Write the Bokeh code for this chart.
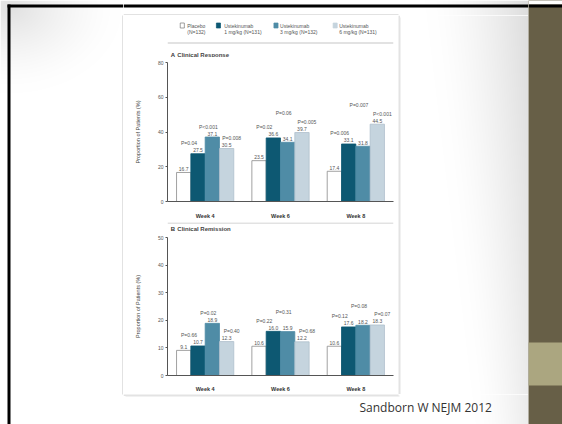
import numpy as np
from bokeh.plotting import figure
from bokeh.models import (ColumnDataSource, FactorRange, Range1d, FixedTicker, BoxAnnotation)
from bokeh.layouts import column, row
from bokeh.transform import dodge
from bokeh.core.properties import value
from bokeh.embed import file_html
from bokeh.resources import INLINE

# ---------------- data ----------------
weeks = ["Week 4", "Week 6", "Week 8"]
group_names = ["Placebo", "Ustekinumab", "Ustekinumab", "Ustekinumab"]
group_details = ["(N=132)", "1 mg/kg (N=131)", "3 mg/kg (N=132)", "6 mg/kg (N=131)"]

response_placebo = [16.7, 23.5, 17.4]
response_1mg = [27.5, 36.6, 33.1]
response_3mg = [37.1, 34.1, 31.8]
response_6mg = [30.5, 39.7, 44.5]
response_p_1mg = ["P=0.04", "P=0.02", "P=0.006"]
response_p_3mg = ["P<0.001", "P=0.06", "P=0.007"]
response_p_6mg = ["P=0.008", "P=0.005", "P<0.001"]
response_ticks = [0, 20, 40, 60, 80]

remission_placebo = [9.1, 10.6, 10.6]
remission_1mg = [10.7, 16.0, 17.6]
remission_3mg = [18.9, 15.9, 18.2]
remission_6mg = [12.3, 12.2, 18.3]
remission_p_1mg = ["P=0.66", "P=0.22", "P=0.12"]
remission_p_3mg = ["P=0.02", "P=0.31", "P=0.08"]
remission_p_6mg = ["P=0.40", "P=0.68", "P=0.07"]
remission_ticks = [0, 10, 20, 30, 40, 50]

panel_titles = [("A", "Clinical Response"), ("B", "Clinical Remission")]
y_axis_title = "Proportion of Patients (%)"
source_note = "Sandborn W NEJM 2012"

# ---------------- style ----------------
FILLS = ["white", "#0d5872", "#4f8ca6", "#c5d4de"]
LINES = ["#8a8a8a", "#0d5872", "#4f8ca6", "#aebfcb"]
OFFSETS = [-0.285, -0.095, 0.095, 0.285]
BAR_W = 0.19
P_XOFF = [0, -9, -4, 5]
FONT = "Liberation Sans"
TXT = "#555555"
BORDER = "#c6c6c6"
OLIVE = "#675f47"
OLIVE_LIGHT = "#aba680"
LEGEND_SWATCH_X = [18, 62, 132, 204]
LEGEND_TEXT_X = [24, 69, 137, 209]


def shade(px0, py0, w, h):
    """Soft slide-background shading as RGBA image, in page pixel space."""
    xs = np.arange(w)[None, :] + px0 + 0.5
    ys = np.arange(h)[:, None] + py0 + 0.5
    x0 = 425 + 0.12 * ys
    t = np.clip((xs - x0) / (528 - x0), 0, 1)
    dark = 34 * t ** 1.6 * (1 - 0.45 * ys / 424)
    r = np.sqrt(((xs - 10) / 1.3) ** 2 + (ys - 7) ** 2)
    dark = dark + 30 * np.clip(1 - r / 85, 0, 1) ** 1.5
    g = np.clip(255 - dark, 0, 255).astype(np.uint32)
    img = (255 << 24) | (g << 16) | (g << 8) | g
    return img.astype(np.uint32)


def blank(w, h, px0, py0, bg="white", shaded=True):
    p = figure(width=w, height=h, x_range=Range1d(0, w), y_range=Range1d(h, 0),
               x_axis_type=None, y_axis_type=None, toolbar_location=None,
               output_backend="svg", min_border=0, title=None,
               background_fill_color=bg, border_fill_color=bg, outline_line_color=None)
    if shaded:
        p.image_rgba(image=[shade(px0, py0, w, h)], x=0, y=0, dw=w, dh=h)
    return p


def bar(p, left, right, top, bottom, color):
    p.add_layout(BoxAnnotation(left=left, right=right, top=top, bottom=bottom,
                               fill_color=color, fill_alpha=1, line_color=None))


def panel(series, pvals, ticks, height, top_b, bottom_b, week_standoff):
    ymax = ticks[-1]
    p = figure(width=275, height=height, x_range=FactorRange(*weeks), y_range=Range1d(0, ymax),
               toolbar_location=None, output_backend="svg", title=None,
               min_border_left=44, min_border_right=5, min_border_top=top_b,
               min_border_bottom=bottom_b, outline_line_color=None,
               background_fill_color="white", border_fill_color="white")
    ppu = (height - top_b - bottom_b) / ymax
    for k in range(4):
        vals = series[k]
        src = ColumnDataSource(dict(week=weeks, v=vals, lab=[f"{x:.1f}" for x in vals]))
        xs = dodge("week", OFFSETS[k], range=p.x_range)
        p.vbar(x=xs, top="v", width=BAR_W, source=src, fill_color=FILLS[k],
               line_color=LINES[k], line_width=0.8)
        p.text(x=xs, y="v", text="lab", source=src, text_align="center",
               text_baseline="bottom", y_offset=-1.5, text_font_size="5px",
               text_color=TXT, text_font=value(FONT))
    # P-value labels above the value labels; the middle dose is raised when crowded
    for k in (1, 2, 3):
        offs = []
        for i in range(3):
            own = series[k][i] * ppu + 13.5
            if k == 2:
                own = max(own, max(series[1][i], series[3][i]) * ppu + 22)
            offs.append(-(own - series[k][i] * ppu) + 3)
        src = ColumnDataSource(dict(week=weeks, v=series[k], lab=pvals[k - 1], yo=offs))
        p.text(x=dodge("week", OFFSETS[k], range=p.x_range), y="v", text="lab", source=src,
               text_align="center", text_baseline="middle", y_offset="yo", x_offset=P_XOFF[k],
               text_font_size="5px", text_color=TXT, text_font=value(FONT))

    p.xgrid.grid_line_color = None
    p.ygrid.grid_line_color = None
    p.yaxis.ticker = FixedTicker(ticks=ticks)
    p.yaxis.axis_label = y_axis_title
    p.yaxis.axis_label_text_font_size = "5.5px"
    p.yaxis.axis_label_text_font_style = "normal"
    p.yaxis.axis_label_text_font = FONT
    p.yaxis.axis_label_text_color = "#444444"
    p.yaxis.axis_label_standoff = 14
    p.yaxis.major_label_text_font_size = "5px"
    p.yaxis.major_label_text_font = FONT
    p.yaxis.major_label_text_color = TXT
    p.yaxis.major_label_standoff = 2
    p.yaxis.major_tick_out = 2
    p.yaxis.major_tick_in = 0
    p.yaxis.minor_tick_line_color = None
    p.yaxis.axis_line_color = "#555555"
    p.yaxis.major_tick_line_color = "#555555"
    p.xaxis.major_tick_line_color = None
    p.xaxis.minor_tick_line_color = None
    p.xaxis.axis_line_color = "#555555"
    p.xaxis.major_label_text_font_size = "5.5px"
    p.xaxis.major_label_text_font_style = "bold"
    p.xaxis.major_label_text_font = FONT
    p.xaxis.major_label_text_color = "#333333"
    p.xaxis.major_label_standoff = week_standoff
    return p


def title_text(p, idx, y):
    letter, name = panel_titles[idx]
    p.text(x=[4], y=[y], text=[letter], text_font=value(FONT), text_font_size="6px",
           text_font_style="bold", text_color="#333333", text_baseline="middle")
    p.text(x=[12], y=[y], text=[name], text_font=value(FONT), text_font_size="6px",
           text_font_style="bold", text_color="#444444", text_baseline="middle")


# ---- chart column (page x 123..398, y 15..394) ----
headA = blank(275, 42, 123, 15, shaded=False)
for k in range(4):
    headA.rect(x=[LEGEND_SWATCH_X[k]], y=[10], width=5, height=5, fill_color=FILLS[k],
               line_color="#777777" if k == 0 else FILLS[k], line_width=0.7)
headA.text(x=LEGEND_TEXT_X, y=[10] * 4, text=group_names, text_font_size="5px",
           text_baseline="middle", text_color=TXT, text_font=value(FONT))
headA.text(x=LEGEND_TEXT_X, y=[16] * 4, text=group_details, text_font_size="5px",
           text_baseline="middle", text_color=TXT, text_font=value(FONT))
bar(headA, 0, 275, 27, 28, BORDER)
title_text(headA, 0, 39)

figA = panel([response_placebo, response_1mg, response_3mg, response_6mg],
             [response_p_1mg, response_p_3mg, response_p_6mg],
             response_ticks, 164, 5, 19, 5)

headB = blank(275, 11, 123, 221, shaded=False)
bar(headB, 0, 275, 0, 1, BORDER)
title_text(headB, 1, 6.5)

figB = panel([remission_placebo, remission_1mg, remission_3mg, remission_6mg],
             [remission_p_1mg, remission_p_3mg, remission_p_6mg],
             remission_ticks, 162, 5, 18, 4)

chart_col = column(headA, figA, headB, figB)

# ---- slide pieces ----
left = blank(123, 424, 0, 0)
bar(left, 7, 10, 4, 424, "black")
bar(left, 7, 123, 4, 7, "black")
bar(left, 122, 123, 15, 394, BORDER)

top_strip = blank(405, 15, 123, 0)
bar(top_strip, 0, 405, 4, 7, "black")
bar(top_strip, 0, 275, 14, 15, BORDER)

mid = blank(130, 379, 398, 15)
bar(mid, 0, 1, 0, 379, BORDER)
bar(mid, 1, 2, 2, 379, "#e4e4e4")

bottom = blank(405, 30, 123, 394)
bar(bottom, 0, 275, 0, 1, BORDER)
bar(bottom, 2, 276, 1, 2, "#e4e4e4")
bottom.text(x=[236], y=[13], text=[source_note], text_font=value("Open Sans"),
            text_font_size="12px", text_color="#333333", text_baseline="alphabetic")

right = blank(34, 424, 528, 0, bg=OLIVE, shaded=False)
bar(right, 0, 34, 0, 4, "white")
bar(right, 0, 34, 4, 7, "black")
bar(right, 0, 34, 342, 385, OLIVE_LIGHT)

center = column(top_strip, row(chart_col, mid), bottom)
page = row(left, center, right)

open("out.html", "w").write(file_html(page, INLINE))
